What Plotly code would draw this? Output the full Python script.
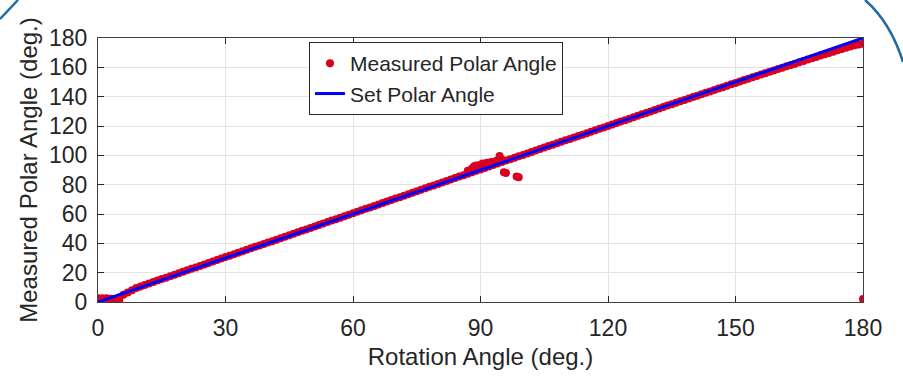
import plotly.graph_objects as go

# ---- data ----
rotation_deg = list(range(0, 181))
measured_main = [
    2.5, 2.5, 2.5, 2.3, 2.0, 3.0, 5.0, 6.5, 8.0, 9.5,
    10.6, 11.6, 12.6, 13.6, 14.6, 15.6, 16.6, 17.6, 18.6, 19.6,
    20.6, 21.6, 22.6, 23.6, 24.6, 25.6, 26.6, 27.6, 28.6, 29.6,
    30.6, 31.6, 32.6, 33.6, 34.6, 35.6, 36.6, 37.6, 38.6, 39.6,
    40.5, 41.5, 42.5, 43.5, 44.5, 45.5, 46.5, 47.5, 48.5, 49.5,
    50.5, 51.5, 52.5, 53.5, 54.5, 55.5, 56.5, 57.5, 58.5, 59.5,
    60.5, 61.5, 62.5, 63.5, 64.5, 65.5, 66.5, 67.5, 68.5, 69.5,
    70.5, 71.5, 72.5, 73.5, 74.5, 75.5, 76.5, 77.5, 78.5, 79.5,
    80.5, 81.5, 82.5, 83.5, 84.5, 85.5, 86.5, 87.5, 88.5, 89.5,
    90.4, 91.4, 92.4, 93.4, 94.4, 95.4, 96.4, 97.4, 98.4, 99.4,
    100.3, 101.3, 102.3, 103.3, 104.3, 105.3, 106.3, 107.3, 108.3, 109.3,
    110.2, 111.2, 112.2, 113.2, 114.1, 115.1, 116.1, 117.1, 118.1, 119.0,
    120.0, 121.0, 122.0, 123.0, 124.0, 125.0, 126.0, 127.0, 128.0, 128.9,
    129.9, 130.9, 131.9, 132.9, 133.9, 134.8, 135.8, 136.8, 137.8, 138.7,
    139.7, 140.7, 141.7, 142.6, 143.6, 144.6, 145.5, 146.5, 147.5, 148.4,
    149.4, 150.3, 151.3, 152.2, 153.2, 154.1, 155.1, 156.0, 157.0, 157.9,
    158.8, 159.8, 160.7, 161.6, 162.5, 163.5, 164.4, 165.3, 166.2, 167.1,
    168.0, 168.9, 169.8, 170.7, 171.6, 172.5, 173.4, 174.2, 175.0, 175.5,
    176.0,
]
outlier_x = [87, 88, 88.5, 89, 89.5, 90, 90.5, 91, 91.5, 92, 92.5, 93, 93.5,
             94, 94.5, 95, 95.5, 96, 98.5, 99, 3, 4, 5, 180]
outlier_y = [89.5, 91, 92.5, 93, 92, 93.5, 94.5, 94, 95, 94.5, 95.5, 95, 96,
             96.5, 99.5, 97, 88.5, 88, 85.5, 85, 0.8, 0.8, 1.2, 2]

set_x = [0, 30, 60, 90, 120, 150, 180]
set_y = [0, 30, 60, 90, 120, 150, 180]

x_ticks = [0, 30, 60, 90, 120, 150, 180]
y_ticks = [0, 20, 40, 60, 80, 100, 120, 140, 160, 180]

FONT = "Liberation Sans, Arial, sans-serif"
TXT = "#262626"
RED = "#dc0020"
BLUE = "#0000ff"

fig = go.Figure()
fig.add_trace(go.Scatter(
    x=rotation_deg + outlier_x, y=measured_main + outlier_y,
    mode="markers", name="Measured Polar Angle",
    marker=dict(color=RED, size=8, line=dict(width=0)),
))
fig.add_trace(go.Scatter(
    x=set_x, y=set_y, mode="lines", name="Set Polar Angle",
    line=dict(color=BLUE, width=3),
))

axis_common = dict(
    showline=True, linecolor="#404040", linewidth=1, mirror="ticks",
    ticks="inside", ticklen=6, tickcolor="#262626",
    showgrid=True, gridcolor="#e3e3e3", gridwidth=1,
    zeroline=False, tickfont=dict(size=23, color=TXT, family=FONT),
)

fig.update_xaxes(range=[0, 180], tickvals=x_ticks, ticklabelstandoff=5,
                 title=dict(text="Rotation Angle (deg.)", standoff=8,
                            font=dict(size=24, color=TXT, family=FONT)),
                 **axis_common)
fig.update_yaxes(range=[0, 180], tickvals=y_ticks, ticklabelstandoff=5,
                 title=dict(text="Measured Polar Angle (deg.)", standoff=4,
                            font=dict(size=24, color=TXT, family=FONT)),
                 **axis_common)

# decorative slide arcs in the corners
fig.add_shape(type="path", xref="paper", yref="paper",
              path="M -0.1281 1.072 L -0.1046 1.144",
              line=dict(color="#1f6aa5", width=2.5))
fig.add_shape(type="path", xref="paper", yref="paper",
              path="M 1.0026 1.144 Q 1.036 1.06 1.0523 0.909",
              line=dict(color="#1f6aa5", width=2.5))

fig.update_layout(
    width=903, height=378,
    margin=dict(l=98, r=40, t=38, b=76),
    paper_bgcolor="white", plot_bgcolor="white",
    font=dict(family=FONT, color=TXT),
    showlegend=True,
    legend=dict(x=0.2758, y=0.9845, xanchor="left", yanchor="top",
                bgcolor="white", bordercolor="#262626", borderwidth=1,
                font=dict(size=21, color=TXT, family=FONT),
                tracegroupgap=0, itemwidth=30),
)

fig.write_html("out.html")
